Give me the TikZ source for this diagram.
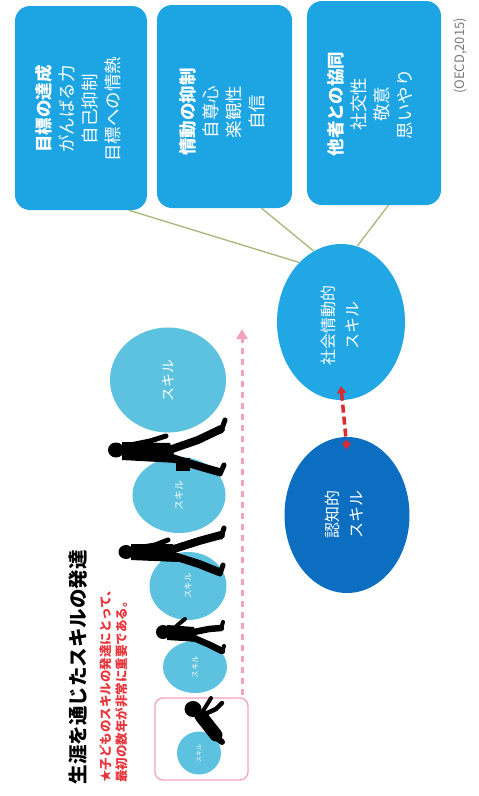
\documentclass[tikz,border=0pt]{standalone}
\usepackage{fontspec}
\setmainfont{Noto Sans CJK JP}
\usetikzlibrary{shapes.geometric,arrows.meta,calc}

\definecolor{boxblue}{HTML}{1CA4E3}
\definecolor{selblue}{HTML}{21A7E4}
\definecolor{cogblue}{HTML}{0B6EC0}
\definecolor{skillblue}{HTML}{5CC2DF}
\definecolor{linkgreen}{HTML}{A9B57A}
\definecolor{pathpink}{HTML}{F2A3BA}
\definecolor{arrowred}{HTML}{DD2A2E}
\definecolor{notered}{HTML}{E8353B}
\definecolor{credgray}{HTML}{7A7A7A}

\tikzset{
  trait/.style={draw=none, fill=boxblue, rounded corners=15pt, inner sep=0pt},
  traittext/.style={rotate=90, text=white, align=center, font=\fontsize{17.5}{23}\selectfont},
  skillellipse/.style={ellipse, draw=none, inner sep=0pt},
  ovaltext/.style={rotate=90, text=white, align=center, font=\fontsize{16}{24}\selectfont},
  ball/.style={ellipse, fill=skillblue, draw=none, inner sep=0pt},
  balltext/.style={rotate=90, text=white},
  link/.style={draw=linkgreen, line width=1.3pt},
  figure/.style={black, line width=7pt, line cap=round, line join=round},
}

\begin{document}
\begin{tikzpicture}[x=1pt, y=-1pt]
  \useasboundingbox[fill=white] (0,0) rectangle (479,796);

  % three trait boxes
  \node[trait, minimum width=132pt, minimum height=204pt] (b1) at (81,108) {};
  \node[trait, minimum width=135pt, minimum height=203pt] (b2) at (224.5,106.5) {};
  \node[trait, minimum width=134pt, minimum height=204pt] (b3) at (374,103) {};

  \node[traittext] (t1) at (78,109) {\textbf{目標の達成}\\がんばる力\\自己抑制\\目標への情熱};
  \node[traittext] (t2) at (222,112) {\textbf{情動の抑制}\\自尊心\\楽観性\\自信};
  \node[traittext] (t3) at (370,104) {\textbf{他者との協同}\\社交性\\敬意\\思いやり};

  \node[rotate=90, text=credgray, font=\fontsize{13}{15}\selectfont] (src) at (460,56) {(OECD,2015)};

  % two skill ovals
  \node[skillellipse, fill=selblue, minimum width=128pt, minimum height=156pt] (sel) at (341,322) {};
  \node[skillellipse, fill=cogblue, minimum width=125pt, minimum height=156pt] (cog) at (347,515) {};
  \node[ovaltext] (selt) at (340,325) {社会情動的\\スキル};
  \node[ovaltext] (cogt) at (344,514) {認知的\\スキル};

  % links from the boxes to the social-emotional oval
  \draw[link] (b1.-65) -- (sel.125);
  \draw[link] (b2.-70) -- (sel.111);
  \draw[link] (b3.-82) -- (sel.78);

  % two-way link between the ovals
  \coordinate (ra) at ($(sel.south)+(0,-14)$);
  \coordinate (rb) at ($(cog.north)+(0,13)$);
  \draw[arrowred, line width=3.5pt, dash pattern=on 8pt off 4pt,
        {Triangle[length=7pt,width=9pt]}-{Triangle[length=7pt,width=9pt]}] (ra) -- (rb);

  % growth path of skills
  \node[ball, minimum width=116pt, minimum height=105pt] (s1) at (168,380) {};
  \node[ball, minimum width=93pt, minimum height=76pt] (s2) at (179,495) {};
  \node[ball, minimum width=77pt, minimum height=68pt] (s3) at (188,586) {};
  \node[ball, minimum width=64pt, minimum height=52pt] (s4) at (195,667) {};
  \node[ball, minimum width=44pt, minimum height=43pt] (s5) at (199,753) {};
  \node[balltext, font=\fontsize{14}{14}\selectfont] (s1t) at (s1) {スキル};
  \node[balltext, font=\fontsize{10}{10}\selectfont] (s2t) at (s2) {スキル};
  \node[balltext, font=\fontsize{8.5}{9}\selectfont] (s3t) at (s3) {スキル};
  \node[balltext, font=\fontsize{7.5}{8}\selectfont] (s4t) at (s4) {スキル};
  \node[balltext, font=\fontsize{6}{7}\selectfont] (s5t) at (s5) {スキル};

  \node[draw=pathpink, line width=1.3pt, rounded corners=8pt, minimum width=93pt, minimum height=82pt] (early) at (201.5,739) {};

  \coordinate (pa) at (242,695);
  \coordinate (pb) at (242,329);
  \draw[pathpink, line width=3pt, dash pattern=on 6pt off 5pt, -{Triangle[length=10pt,width=11pt]}] (pa) -- (pb);

  % walking figures
  % adult with bag
  \fill (116,450) ellipse [x radius=8, y radius=7.5];
  \fill (122,442) -- (170,443) -- (177,463) -- (122,460) -- cycle;
  \draw[figure, line width=8pt] (172,449) -- (198,440) -- (221,429);
  \draw[figure, line width=5pt] (221,431) -- (225,420);
  \draw[figure, line width=8pt] (172,458) -- (198,466) -- (219,472);
  \draw[figure, line width=5pt] (220,474) -- (224,465);
  \draw[figure, line width=5pt] (130,445) -- (150,441) -- (166,436);
  \fill (176,458) rectangle (190,471);
  % adult
  \fill (126,552) ellipse [x radius=7.5, y radius=7];
  \fill (131,544) -- (173,544) -- (178,562) -- (131,560) -- cycle;
  \draw[figure, line width=8pt] (174,549) -- (199,541) -- (221,535);
  \draw[figure, line width=5pt] (221,537) -- (224,528);
  \draw[figure, line width=8pt] (174,556) -- (199,564) -- (219,572);
  \draw[figure, line width=5pt] (220,574) -- (223,565);
  \draw[figure, line width=5pt] (137,548) -- (155,545) -- (168,540);
  % child
  \fill (163,632) ellipse [x radius=7, y radius=7];
  \fill (167,625) -- (194,627) -- (198,642) -- (167,640) -- cycle;
  \draw[figure, line width=6.5pt] (194,632) -- (209,629) -- (221,628);
  \draw[figure, line width=4pt] (221,629) -- (223,622);
  \draw[figure, line width=6.5pt] (194,638) -- (210,645) -- (222,651);
  \draw[figure, line width=4pt] (222,652) -- (224,646);
  \draw[figure, line width=4pt] (172,630) -- (180,623) -- (185,619);
  % baby
  \fill (193,709) ellipse [x radius=8.5, y radius=8];
  \draw[figure, line width=13pt] (201,716) -- (216,735);
  \draw[figure, line width=4.5pt] (205,714) -- (216,709) -- (222,703);
  \draw[figure, line width=4pt] (203,711) -- (208,703) -- (211,698);
  \draw[figure, line width=6pt] (216,737) -- (222,742);

  % heading and note
  \node[rotate=90, font=\fontsize{19.5}{19.5}\selectfont\bfseries] (title) at (78,667) {生涯を通じたスキルの発達};
  \node[rotate=90, anchor=north west, align=left, text=notered, inner sep=0pt,
        font=\fontsize{12.5}{16}\selectfont\bfseries] (note) at (100,783)
        {★子どものスキルの発達にとって、\\最初の数年が非常に重要である。};
\end{tikzpicture}
\end{document}
